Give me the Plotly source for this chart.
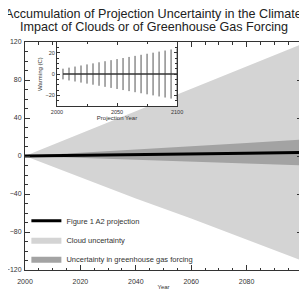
import plotly.graph_objects as go

# ---- data ----
years = [2000, 2020, 2040, 2060, 2080, 2100]
projection = [0.0, 0.6, 1.3, 2.1, 2.9, 3.8]          # Figure 1 A2 projection (C)
cloud_unc = [0.0, 23.0, 46.0, 68.0, 91.0, 114.0]      # +/- cloud uncertainty (C)
ghg_unc = [0.0, 2.7, 5.4, 8.1, 10.8, 13.5]            # +/- greenhouse-gas forcing uncertainty (C)

inset_years = [2005, 2010, 2015, 2020, 2025, 2030, 2035, 2040, 2045, 2050,
               2055, 2060, 2065, 2070, 2075, 2080, 2085, 2090, 2095, 2100]
inset_center = [0] * len(inset_years)
inset_err = [5, 6, 7, 8, 9, 10, 11, 12, 13, 14,
             15, 16, 17, 18, 19, 20, 21, 22, 23, 24]

inset_xrange = [2000, 2100]
inset_yrange = [-30, 30]

title_lines = ["Accumulation of Projection Uncertainty in the Climate",
               "Impact of Clouds or of Greenhouse Gas Forcing"]

FONT = "Liberation Sans, Arial, sans-serif"


def band(center, half):
    up = [c + h for c, h in zip(center, half)]
    lo = [c - h for c, h in zip(center, half)]
    return years + years[::-1], up + lo[::-1]


fig = go.Figure()

bx, by = band(projection, cloud_unc)
fig.add_trace(go.Scatter(x=bx, y=by, fill="toself", fillcolor="#d4d4d4",
                         line=dict(width=0), mode="lines",
                         name="Cloud uncertainty", legendrank=2))
gx, gy = band(projection, ghg_unc)
fig.add_trace(go.Scatter(x=gx, y=gy, fill="toself", fillcolor="#a3a3a3",
                         line=dict(width=0), mode="lines",
                         name="Uncertainty in greenhouse gas forcing", legendrank=3))
fig.add_trace(go.Scatter(x=years, y=projection, mode="lines",
                         line=dict(color="black", width=3),
                         name="Figure 1 A2 projection", legendrank=1))

# inset: white background + error bars
fig.add_trace(go.Scatter(
    x=[inset_xrange[0], inset_xrange[1], inset_xrange[1], inset_xrange[0]],
    y=[inset_yrange[0], inset_yrange[0], inset_yrange[1], inset_yrange[1]],
    fill="toself", fillcolor="white", line=dict(width=0), mode="lines",
    showlegend=False, hoverinfo="skip", xaxis="x2", yaxis="y2"))
fig.add_trace(go.Scatter(
    x=inset_years, y=inset_center, mode="lines",
    line=dict(color="#333333", width=1.5),
    error_y=dict(type="data", array=inset_err, visible=True,
                 thickness=1, width=0, color="#555555"),
    showlegend=False, xaxis="x2", yaxis="y2"))

# two title lines placed separately (the reference uses a tight line spacing)
for t, yy in zip(title_lines, [1.123, 1.064]):
    fig.add_annotation(text=t, xref="paper", yref="paper",
                       x=0.4657, y=yy, xanchor="center", yanchor="middle",
                       showarrow=False,
                       font=dict(size=12.6, family=FONT, color="#222222"))

axis_common = dict(showline=True, linecolor="#333333", linewidth=1, mirror="ticks",
                   ticks="inside", tickcolor="#333333", showgrid=False, zeroline=False,
                   automargin=False)

# the page body adds an 8px offset; the figure is sized to fill the rest of the window
fig.update_layout(
    template="none",
    width=299, height=285,
    margin=dict(l=17, r=5, t=34, b=23, pad=0),
    paper_bgcolor="white", plot_bgcolor="white",
    font=dict(family=FONT, color="#333333"),
    showlegend=True,
    legend=dict(x=0.005, y=0.28, xanchor="left", yanchor="top",
                bgcolor="rgba(0,0,0,0)", font=dict(size=7.5, color="#333333"),
                itemwidth=30, tracegroupgap=0),
    xaxis=dict(range=[2000, 2100], tickvals=[2000, 2020, 2040, 2060, 2080, 2100],
               ticklen=5, tickfont=dict(size=7, color="#333333"), ticklabelstandoff=5,
               minor=dict(dtick=5, ticks="inside", ticklen=2.5, tickcolor="#333333"),
               title=dict(text="Year", font=dict(size=6, color="#333333"), standoff=0),
               **axis_common),
    yaxis=dict(range=[-120, 120], tickvals=[-120, -80, -40, 0, 40, 80, 120],
               ticklen=5, tickfont=dict(size=7, color="#333333"), ticklabelstandoff=1,
               minor=dict(dtick=10, ticks="inside", ticklen=2.5, tickcolor="#333333"),
               **axis_common),
    xaxis2=dict(domain=[0.1155, 0.549], anchor="y2", range=inset_xrange,
                tickvals=[2000, 2050, 2100], ticklen=3,
                tickfont=dict(size=5.5, color="#333333"),
                minor=dict(dtick=25, ticks="inside", ticklen=2, tickcolor="#333333"),
                title=dict(text="Projection Year", font=dict(size=6, color="#333333"),
                           standoff=1),
                **axis_common),
    yaxis2=dict(domain=[0.719, 1.0], anchor="x2", range=inset_yrange,
                tickvals=[-20, 0, 20], ticklen=3,
                tickfont=dict(size=5.5, color="#333333"),
                minor=dict(dtick=5, ticks="inside", ticklen=2, tickcolor="#333333"),
                title=dict(text="Warming (C)", font=dict(size=6, color="#333333"),
                           standoff=2),
                **axis_common),
)

fig.write_html("out.html")
